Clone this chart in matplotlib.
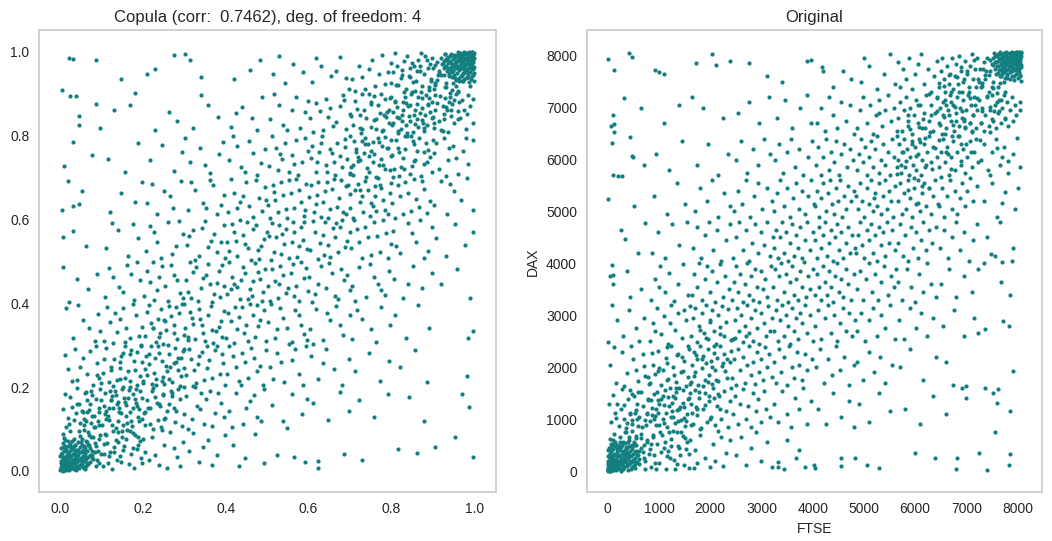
import numpy as np
import matplotlib.pyplot as plt

# Copula sample, both coordinates in thousandths (0..1000),
# grouped by x band of width 0.1, written as flat (u, v) pairs
cop_b0 = [3,8, 12,4, 7,21, 18,15, 25,6, 9,33, 31,22, 15,47, 40,12, 22,30, 5,14, 36,38, 48,25, 11,60,
          27,52, 55,9, 60,33, 19,71, 44,50, 8,88, 33,77, 66,18, 72,55, 51,68, 14,26, 29,11, 2,40, 39,2,
          58,44, 80,28, 24,95, 47,84, 63,71, 88,12, 16,5, 6,57, 35,63, 75,80, 92,47, 42,31, 20,40, 53,16,
          68,92, 85,66, 10,78, 30,18, 4,2, 13,13, 26,36, 61,4, 45,7, 97,85, 78,39, 37,49, 95,20,
          14,105, 33,122, 57,110, 81,131, 92,118, 8,148, 46,160, 70,145, 25,177, 62,189, 88,172, 39,138,
          75,115, 97,196, 18,127, 53,142, 66,168, 30,153, 85,104, 42,197, 11,183, 94,150, 59,125, 77,181,
          22,112, 28,214, 65,232, 90,258, 12,276, 47,249, 80,205, 35,290, 55,270, 95,222, 19,243, 72,285,
          42,218, 86,297, 31,318, 70,342, 92,375, 15,389, 55,361, 84,310, 44,396, 97,334, 22,402, 68,433,
          89,470, 40,458, 6,486, 6,558, 31,572, 62,536, 5,622, 32,633, 46,637, 20,691, 54,668, 10,728,
          32,784, 77,754, 46,847, 46,825, 86,875, 25,894, 39,894, 97,819, 5,909, 22,985, 31,982, 88,980]
cop_b1 = [104,12, 118,35, 131,58, 146,22, 159,77, 172,41, 188,63, 109,88, 125,5, 140,94, 153,49, 167,16,
          181,85, 196,30, 113,67, 137,27, 162,98, 178,8, 193,72, 121,45, 149,81, 185,53, 107,40, 134,74,
          176,91, 199,18, 102,110, 115,132, 129,151, 141,118, 155,175, 168,140, 183,162, 197,124, 108,187,
          122,168, 136,103, 149,196, 162,114, 176,183, 190,147, 105,155, 119,121, 133,190, 147,137, 160,158,
          174,106, 188,129, 111,142, 126,179, 139,165, 153,109, 166,194, 180,171, 194,190, 143,150,
          103,233, 118,211, 131,267, 144,245, 158,222, 171,288, 185,206, 198,259, 110,294, 124,248, 137,218,
          151,281, 165,239, 179,262, 192,227, 107,266, 128,203, 156,299, 170,214, 187,284, 146,273, 195,298,
          106,311, 121,356, 137,332, 152,389, 168,317, 183,371, 199,344, 114,392, 129,305, 145,363, 160,340,
          175,398, 190,322, 133,377, 158,308, 109,415, 127,462, 143,438, 161,491, 178,407, 194,455, 118,483,
          152,426, 171,470, 187,499, 112,531, 139,574, 165,512, 188,556, 126,592, 176,588, 120,618, 148,663,
          181,641, 197,689, 115,745, 157,712, 189,783, 130,861, 170,873, 148,935, 181,902]
cop_b2 = [205,44, 222,81, 238,15, 251,62, 266,92, 283,33, 297,70, 214,25, 246,98, 259,8, 275,55, 290,11,
          230,37, 203,139, 217,112, 229,176, 241,155, 254,127, 268,190, 281,144, 295,108, 209,168, 224,198,
          236,121, 249,184, 262,160, 277,116, 289,172, 299,135, 212,150, 244,104, 258,142, 271,179, 286,195,
          233,163, 201,214, 214,256, 226,233, 239,281, 252,207, 265,249, 278,293, 292,226, 207,274, 219,298,
          232,219, 245,262, 258,239, 271,211, 284,270, 297,285, 204,242, 237,297, 263,278, 289,203, 249,225,
          276,258, 222,208, 299,246, 206,321, 219,354, 231,308, 243,387, 256,336, 269,369, 282,315, 295,398,
          210,380, 224,341, 236,363, 249,302, 262,394, 275,348, 288,377, 299,325, 215,395, 253,357, 280,391,
          241,329, 203,417, 218,451, 233,432, 247,489, 261,406, 276,468, 290,425, 209,478, 224,499, 239,463,
          254,441, 268,492, 283,455, 297,412, 228,408, 207,524, 226,571, 244,509, 261,593, 279,537, 296,566,
          216,584, 235,545, 270,518, 288,597, 211,639, 234,612, 252,667, 273,628, 292,691, 223,684, 265,655,
          218,742, 247,778, 276,716, 295,761, 229,812, 262,857, 283,835, 210,947, 229,959, 276,993]
cop_b3 = [312,48, 335,22, 357,73, 379,39, 398,86, 322,91, 368,15, 345,57, 303,178, 318,124, 331,156,
          347,113, 361,191, 374,137, 389,162, 308,101, 325,199, 339,148, 353,171, 366,108, 382,185, 395,129,
          340,187, 305,228, 316,267, 329,209, 342,283, 354,246, 367,222, 380,297, 393,258, 311,291, 323,240,
          336,275, 348,217, 360,264, 373,289, 386,231, 399,206, 320,203, 356,299, 390,278, 333,254, 302,341,
          314,378, 327,315, 339,362, 351,309, 364,394, 376,333, 388,357, 300,398, 310,312, 322,351, 335,387,
          346,329, 358,373, 370,305, 383,344, 395,381, 318,364, 343,348, 366,336, 391,319, 304,455, 317,412,
          329,486, 341,437, 353,468, 366,403, 378,449, 390,491, 309,427, 321,474, 333,405, 346,459, 358,493,
          371,421, 384,478, 397,441, 313,499, 362,446, 387,414, 306,538, 321,574, 336,512, 351,597, 365,549,
          380,521, 395,586, 311,561, 327,503, 342,579, 357,533, 372,566, 388,545, 399,509, 308,622, 326,671,
          344,640, 362,695, 379,613, 397,658, 317,690, 353,627, 370,681, 388,635, 314,738, 339,771, 361,711,
          383,756, 302,794, 349,729, 394,785, 322,818, 357,873, 381,844, 340,896, 302,995, 315,981, 340,940]
cop_b4 = [418,62, 446,31, 471,87, 493,18, 432,12, 407,143, 424,186, 441,112, 458,167, 476,129, 492,195,
          415,104, 450,151, 468,182, 486,118, 403,231, 418,274, 432,215, 447,259, 461,293, 476,238, 490,206,
          409,297, 424,248, 439,282, 454,222, 469,269, 483,251, 497,288, 436,204, 401,318, 414,357, 427,339,
          440,392, 453,311, 466,371, 479,346, 492,384, 406,376, 419,304, 432,366, 445,329, 458,398, 471,320,
          484,361, 497,309, 423,391, 450,348, 475,395, 404,421, 416,463, 428,438, 441,487, 453,409, 466,452,
          478,474, 491,426, 409,498, 421,447, 434,411, 446,471, 459,433, 471,496, 484,458, 496,482, 412,435,
          438,456, 463,418, 487,405, 402,547, 415,589, 428,513, 441,562, 454,531, 467,578, 480,506, 493,554,
          408,524, 421,569, 434,598, 447,541, 460,502, 473,586, 486,536, 499,571, 425,549, 452,593, 478,527,
          405,618, 420,664, 435,641, 450,689, 465,606, 480,652, 495,677, 412,697, 427,628, 442,655, 457,633,
          472,694, 488,619, 498,646, 409,741, 428,776, 447,712, 466,759, 485,735, 418,798, 437,724, 456,787,
          475,705, 494,768, 414,821, 439,867, 463,843, 488,892, 426,854, 475,812, 421,934, 458,957, 483,979]
cop_b5 = [523,38, 564,33, 592,22, 512,157, 538,119, 561,183, 584,136, 549,102, 596,171, 506,247, 524,282,
          541,213, 559,265, 577,231, 594,298, 515,219, 533,259, 568,292, 587,205, 503,356, 518,318, 532,389,
          547,341, 561,307, 576,372, 590,326, 509,397, 524,339, 539,364, 553,302, 568,385, 582,349, 597,313,
          501,442, 513,481, 526,413, 538,467, 551,436, 563,494, 576,405, 588,459, 599,428, 507,406, 520,452,
          532,489, 545,424, 557,473, 570,441, 582,499, 594,483, 529,445, 566,418, 504,561, 516,523, 528,587,
          541,542, 553,509, 565,571, 578,536, 590,594, 509,502, 521,559, 534,518, 546,578, 559,546, 571,511,
          583,583, 596,529, 512,591, 537,565, 562,594, 587,551, 502,634, 514,681, 527,617, 539,659, 552,693,
          564,628, 577,671, 589,609, 508,603, 520,647, 533,689, 545,625, 558,662, 570,697, 583,642, 595,684,
          517,666, 548,604, 592,622, 505,728, 521,771, 537,745, 553,712, 569,789, 585,736, 599,763, 511,799,
          527,718, 543,781, 559,754, 575,707, 591,794, 530,757, 566,731, 507,839, 528,874, 549,813, 570,891,
          591,856, 517,898, 538,826, 559,862, 580,819, 598,883, 514,946, 542,925, 563,971, 586,951, 529,989]
cop_b6 = [622,23, 624,6, 685,41, 612,163, 648,121, 675,188, 697,142, 606,274, 624,219, 643,291, 661,243,
          680,205, 698,266, 635,257, 603,338, 619,387, 635,312, 651,359, 667,394, 683,325, 699,371, 611,303,
          644,376, 676,349, 601,463, 615,421, 629,488, 643,437, 657,472, 671,409, 685,456, 699,431, 608,403,
          622,447, 650,495, 664,418, 678,481, 692,467, 604,528, 616,571, 628,543, 640,594, 652,511, 664,557,
          676,583, 688,534, 700,569, 610,597, 622,505, 634,562, 646,539, 658,579, 670,521, 682,598, 694,548,
          637,516, 667,591, 602,654, 613,617, 624,688, 635,641, 646,603, 657,672, 668,629, 679,695, 690,612,
          699,661, 607,681, 618,636, 629,606, 640,668, 651,625, 662,697, 673,651, 684,618, 695,683, 644,689,
          621,659, 605,746, 617,712, 629,783, 641,729, 653,768, 665,706, 677,751, 689,791, 609,774, 621,737,
          633,798, 645,714, 657,759, 669,781, 681,724, 693,743, 699,709, 626,761, 662,736, 687,772, 603,841,
          619,878, 635,814, 651,866, 667,833, 683,897, 699,852, 611,808, 627,859, 643,887, 659,823, 675,871,
          691,815, 648,845, 686,884, 608,927, 631,965, 654,941, 677,988, 698,912, 619,984, 667,953, 690,938]
cop_b7 = [730,25, 722,169, 758,128, 791,184, 713,238, 746,281, 772,214, 795,262, 706,315, 729,362, 751,338,
          774,391, 796,349, 718,384, 763,307, 704,442, 722,487, 740,416, 758,463, 776,431, 794,478, 713,405,
          749,494, 767,447, 785,419, 702,532, 716,576, 730,509, 744,558, 758,593, 772,521, 786,567, 799,541,
          709,598, 723,547, 737,583, 751,514, 765,561, 779,599, 793,507, 701,627, 713,669, 725,641, 737,692,
          749,609, 761,655, 773,683, 785,622, 797,664, 707,604, 719,685, 731,618, 743,671, 755,633, 767,698,
          779,646, 791,612, 799,687, 728,656, 764,619, 703,726, 714,768, 725,741, 736,793, 747,712, 758,757,
          769,784, 780,729, 791,771, 708,705, 719,749, 730,786, 741,722, 752,763, 763,701, 774,745, 785,797,
          796,718, 711,788, 733,758, 755,737, 777,775, 799,752, 744,779, 702,847, 713,883, 724,819, 735,862,
          746,899, 757,836, 768,874, 779,812, 790,857, 799,891, 707,826, 718,864, 729,898, 740,841, 751,879,
          762,815, 773,853, 784,886, 795,829, 726,807, 759,895, 788,845, 705,934, 721,967, 737,912, 753,981,
          769,946, 785,923, 798,972, 713,906, 745,958, 777,991, 730,939, 761,918, 792,951]
cop_b8 = [815,52, 863,42, 842,176, 879,118, 821,247, 858,289, 887,213, 809,372, 836,318, 864,395, 891,341,
          806,458, 829,412, 852,489, 875,436, 898,471, 841,447, 803,573, 822,519, 841,592, 860,545, 879,508,
          898,581, 812,536, 850,567, 869,599, 888,524, 802,638, 815,681, 828,612, 841,664, 854,697, 867,629,
          880,673, 893,645, 808,603, 821,656, 834,689, 847,621, 860,648, 873,692, 886,615, 801,753, 812,789,
          823,724, 834,768, 845,709, 856,741, 867,795, 878,733, 889,766, 899,712, 806,721, 817,771, 828,746,
          839,798, 850,728, 861,763, 872,704, 883,782, 894,749, 819,703, 853,787, 887,738, 803,831, 813,868,
          823,815, 833,892, 843,847, 853,809, 863,875, 873,838, 883,896, 893,857, 808,882, 818,843, 828,861,
          838,806, 848,899, 858,828, 868,853, 878,819, 888,874, 898,843, 805,856, 825,834, 845,872, 865,891,
          885,826, 899,881, 815,811, 835,877, 855,849, 875,865, 804,952, 817,921, 830,978, 843,943, 856,906,
          869,965, 882,989, 895,931, 810,997, 823,938, 836,912, 849,973, 862,954, 875,918, 888,962, 899,985,
          813,965, 839,990, 852,928, 878,947, 891,909, 826,957, 865,981, 893,971, 846,960, 872,996]
cop_b9 = [905,56, 998,33, 953,82, 971,183, 988,153, 982,227, 998,334, 986,316, 921,447, 958,481, 989,412,
          908,556, 931,512, 954,589, 977,538, 996,571, 903,634, 919,691, 935,612, 951,668, 967,647, 983,698,
          997,623, 942,684, 902,758, 914,719, 926,793, 938,741, 950,776, 962,708, 974,762, 986,731, 998,789,
          908,782, 932,703, 956,747, 980,795, 901,845, 911,878, 921,812, 931,867, 941,893, 951,829, 961,858,
          971,884, 981,816, 991,871, 906,896, 916,834, 926,852, 936,809, 946,876, 956,899, 966,841, 976,862,
          986,897, 996,829, 903,819, 943,847, 963,879, 983,851, 998,888, 929,889, 902,912, 915,948, 924,971,
          933,926, 941,989, 948,955, 954,937, 959,978, 963,992, 967,961, 971,944, 974,985, 977,969, 980,996,
          983,953, 985,981, 988,999, 990,967, 992,988, 994,975, 996,993, 997,958, 999,984, 998,997, 995,979,
          991,995, 987,972, 984,990, 979,983, 976,949, 972,998, 968,977, 964,931, 958,966, 952,991, 945,974,
          937,962, 929,995, 919,986, 910,933, 906,969, 939,941, 956,917, 973,929, 986,940, 993,962, 999,949,
          989,918, 961,906, 947,908, 927,945, 966,985, 981,937, 950,968, 935,980, 975,959, 994,999, 970,990]
# the two solid clusters in the corners of the left panel
cop_lo = [1,3, 6,1, 2,9, 10,6, 14,2, 4,16, 8,12, 17,9, 21,3, 3,24, 12,19, 19,15, 26,8, 7,29, 15,26,
          23,21, 30,14, 34,4, 1,36, 11,33, 20,30, 28,25, 36,18, 41,9, 5,42, 16,39, 25,35, 33,29, 40,22,
          47,13, 9,48, 22,45, 31,40, 39,34, 46,27, 52,18, 57,6, 3,55, 14,53, 27,50, 37,44, 44,38, 51,31,
          58,23, 63,12, 18,60, 32,57, 42,51, 50,44, 56,36, 62,28, 68,17, 8,66, 24,64, 36,62, 48,56, 55,49,
          61,41, 67,33, 73,22, 13,74, 29,71, 43,68, 53,61, 60,54, 66,47, 72,39, 78,30, 2,19, 5,6, 9,2,
          13,10, 18,4, 24,14, 11,24, 6,33, 16,21, 29,6, 35,24, 22,38, 38,12, 45,46, 54,25, 26,58, 59,59,
          70,62, 64,70, 77,48]
cop_hi = [999,998, 994,999, 998,991, 990,994, 986,998, 996,984, 992,988, 983,991, 979,997, 997,976,
          988,981, 981,985, 974,992, 993,971, 985,974, 977,979, 970,986, 966,996, 999,964, 989,967,
          980,970, 972,975, 964,982, 959,991, 995,958, 984,961, 975,965, 967,971, 960,978, 953,987,
          991,952, 978,955, 969,960, 961,966, 954,973, 948,982, 943,994, 997,945, 986,947, 973,950,
          963,956, 956,962, 949,969, 942,977, 937,988, 982,940, 968,943, 958,949, 950,956, 944,964,
          938,972, 932,983, 992,934, 976,936, 964,938, 952,944, 945,951, 939,959, 933,967, 927,978,
          987,927, 971,929, 957,932, 947,939, 940,946, 934,953, 928,961, 922,970, 998,981, 995,987,
          991,997, 987,989, 982,994, 976,999, 995,969, 989,976, 964,986, 976,961, 962,999, 971,994,
          994,941, 955,978, 944,991, 930,995, 999,929, 952,967]
# the denser diagonal band running out of each corner cluster
cop_ridge_lo = [45,95, 62,120, 88,60, 95,140, 110,85, 72,160, 125,110, 140,70, 52,75, 100,40, 118,150,
                135,180, 150,95, 160,130, 82,105, 168,200, 175,150, 190,120, 198,175, 210,230, 205,140,
                222,190, 238,160, 245,215, 255,250, 230,270, 182,240, 145,220, 120,190, 98,170, 76,130,
                58,98, 90,25, 105,65, 130,45, 155,60, 170,95, 188,80, 66,140, 48,115, 112,125, 128,95,
                142,140, 156,165, 172,120, 186,155, 204,110, 218,150, 232,205, 248,180, 264,220, 270,185,
                285,240, 292,270, 260,300, 240,320, 215,280, 200,210, 184,195, 165,175, 152,200, 138,160,
                124,170, 108,135, 94,110, 80,82, 68,62, 55,140, 40,160, 75,190, 100,210, 60,185, 122,240,
                90,230, 145,260, 170,280, 195,300, 225,340, 250,360, 275,330, 300,290, 310,320, 280,260,
                85,45, 115,20, 145,35, 175,55, 200,75, 225,100, 250,125, 275,150, 300,200, 95,75, 70,85]
cop_ridge_hi = [960,905, 940,880, 912,945, 905,860, 890,915, 928,840, 875,890, 860,930, 948,925, 900,960,
                882,850, 865,820, 850,905, 840,870, 918,895, 832,800, 825,850, 810,880, 802,825, 790,770,
                795,860, 778,810, 762,840, 755,785, 745,750, 770,730, 818,760, 855,780, 880,810, 902,830,
                924,870, 942,902, 910,975, 895,935, 870,955, 845,940, 830,905, 812,920, 934,860, 952,885,
                888,875, 872,905, 858,860, 844,835, 828,880, 814,845, 796,890, 782,850, 768,795, 752,820,
                736,780, 730,815, 715,760, 708,730, 740,700, 760,680, 785,720, 800,790, 816,805, 835,825,
                848,800, 862,840, 876,830, 892,890, 906,920, 920,945, 932,915, 945,860, 960,840, 925,810,
                900,790, 940,770, 878,760, 855,740, 830,720, 805,700, 775,675, 750,640, 725,670, 700,710,
                690,680, 720,740, 915,955, 885,980, 855,965, 825,945, 800,925, 775,900, 750,875, 725,850,
                700,800, 905,925, 930,915]

ori_b0 = [20,40, 85,15, 140,90, 60,180, 210,60, 35,260, 170,210, 260,150, 120,330, 300,30, 75,110, 230,290,
          380,120, 15,400, 330,240, 180,420, 420,310, 95,520, 280,380, 470,70, 50,620, 360,470, 520,200,
          150,560, 400,560, 560,380, 240,650, 610,130, 480,500, 130,720, 330,760, 650,450, 700,250, 560,640,
          10,110, 45,330, 110,20, 190,140, 250,10, 310,330, 70,470, 420,650, 640,720, 760,560, 540,50, 390,20,
          160,300, 220,480, 290,560, 10,200, 590,300, 730,40, 0,20, 100,240, 350,170,
          30,1285, 60,940, 140,1120, 220,860, 310,1010, 390,1390, 470,900, 560,1180, 640,1520, 720,980,
          100,1460, 190,1300, 270,1580, 350,830, 430,1100, 510,1450, 600,870, 680,1250, 760,1090, 250,1190,
          440,1560, 580,1010, 790,1380, 160,1020, 53,2042, 160,1700, 270,2300, 380,1880, 490,2150, 600,1730,
          710,2020, 120,2380, 320,1640, 450,2400, 560,1950, 680,2260, 780,1820, 0,2480, 176,2909, 300,2600,
          420,3100, 560,2750, 700,2950, 90,3200, 620,2500, 430,3358, 98,3776, 39,3763, 111,3603, 92,3969,
          380,3850, 650,3500, 267,4644, 332,4470, 600,4200, 720,4780, 0,5235, 98,5703, 202,5684, 273,5684,
          520,5100, 80,6314, 129,6532, 436,6441, 475,6075, 494,6044, 700,5900, 66,6647, 124,6680, 110,6865,
          324,7181, 650,7000, 0,7932, 129,7720, 421,8060, 480,7971]
ori_b1 = [850,80, 900,300, 960,520, 1010,150, 1060,700, 1138,40, 1180,380, 1240,610, 1300,220, 1320,40,
          1370,480, 1430,760, 1480,120, 1540,560, 1590,330, 880,650, 940,30, 1100,450, 1210,260, 1270,770,
          1350,130, 1410,300, 1460,680, 1520,420, 1587,52, 830,420, 820,960, 870,1210, 910,1480, 950,880,
          990,1120, 1030,1390, 1070,1010, 1110,1570, 1150,850, 1190,1260, 1230,1040, 1270,1450, 1310,930,
          1350,1180, 1390,1600, 1430,990, 1470,1320, 1510,870, 1550,1100, 1600,1500, 850,1360, 930,1060,
          1010,1290, 1090,920, 1170,1420, 1250,1160, 1330,1530, 1410,1240, 1490,1020, 1570,1380, 830,1700,
          880,2050, 930,1860, 980,2320, 1030,1660, 1080,1950, 1130,2180, 1180,1780, 1230,2400, 1280,2010,
          1330,1720, 1380,2250, 1430,1900, 1480,2110, 1530,1640, 1580,2350, 860,2280, 1000,1990, 1150,2380,
          1300,1850, 1450,2200, 1560,1810, 820,2500, 890,2850, 960,3150, 1030,2640, 1100,2980, 1170,2450,
          1240,3200, 1310,2720, 1380,3050, 1450,2560, 1520,2900, 1600,3180, 930,2700, 1210,2850, 1480,3100,
          840,3300, 930,3700, 1020,3950, 1110,3450, 1200,3820, 1290,3280, 1380,3600, 1470,3990, 1560,3400,
          1000,3550, 860,4200, 990,4600, 1120,4100, 1250,4750, 1400,4350, 1550,4800, 900,5300, 1150,4950,
          1350,5550, 1500,5150, 950,6100, 1200,5800, 1450,6350, 1100,6700, 1400,7050, 923,7720, 1000,7682,
          1099,7649]
ori_b2 = [1678,52, 1990,71, 2257,100, 1700,400, 1800,700, 1900,250, 2050,520, 2150,780, 2300,350, 2380,600,
          1750,150, 2100,200, 2220,650, 1630,1300, 1660,900, 1700,1560, 1740,1080, 1780,1400, 1820,830,
          1860,1200, 1900,1500, 1940,950, 1980,1350, 2020,1050, 2060,1600, 2100,880, 2140,1250, 2180,1450,
          2220,1000, 2260,1550, 2300,1150, 2340,850, 2380,1350, 1720,1230, 2080,1400, 1620,1720, 1650,2050,
          1680,2300, 1710,1900, 1740,2150, 1770,1650, 1800,2400, 1830,1980, 1860,2220, 1890,1760, 1920,2080,
          1950,2350, 1980,1850, 2010,2120, 2040,1680, 2070,2280, 2100,1950, 2130,2180, 2160,1730, 2190,2400,
          2230,2020, 2270,2250, 2320,1800, 2390,2100, 1630,2600, 1670,2950, 1710,3150, 1750,2480, 1790,2800,
          1830,3050, 1870,2650, 1910,3200, 1950,2550, 1990,2900, 2030,3100, 2070,2700, 2110,2450, 2150,3000,
          2190,2780, 2230,3180, 2270,2600, 2310,2880, 2350,3120, 2400,2520, 1640,3400, 1690,3800, 1740,3550,
          1790,4000, 1840,3300, 1890,3700, 1940,3950, 1990,3450, 2040,3850, 2090,3250, 2140,3650, 2190,3980,
          2240,3350, 2290,3750, 2370,3500, 1660,4300, 1740,4700, 1820,4100, 1900,4550, 1980,4800, 2060,4250,
          2140,4650, 2220,4050, 2300,4450, 2390,4750, 1700,5000, 1810,5450, 1930,5200, 2040,5600, 2160,4900,
          2270,5350, 2380,5100, 1750,5900, 1950,6300, 2150,5700, 2350,6100, 1850,7000, 2250,6800, 1650,7200,
          1724,7855, 2030,8029, 2114,7817, 2381,7900]
ori_b3 = [2500,300, 2600,650, 2700,120, 2800,450, 2900,750, 3000,200, 3100,550, 3200,80, 2440,1100,
          2490,1450, 2540,900, 2590,1300, 2640,1580, 2690,1000, 2740,1250, 2790,850, 2840,1500, 2890,1150,
          2940,1380, 2990,950, 3040,1550, 3090,1200, 3160,1050, 2430,1800, 2470,2150, 2510,1650, 2550,2350,
          2590,1950, 2630,2200, 2670,1700, 2710,2050, 2750,2400, 2790,1850, 2830,2100, 2870,1680, 2910,2300,
          2950,1900, 2990,2150, 3030,1750, 3070,2380, 3110,2000, 3150,2250, 3200,1820, 2440,2550, 2480,2900,
          2520,3150, 2560,2700, 2600,3000, 2640,2480, 2680,2800, 2720,3200, 2760,2650, 2800,2950, 2840,2500,
          2880,3100, 2920,2750, 2960,2450, 3000,3050, 3040,2850, 3080,2600, 3120,3180, 3160,2700, 3200,2950,
          2700,2600, 2430,3300, 2470,3650, 2510,3950, 2550,3450, 2590,3800, 2630,3250, 2670,3600, 2710,4000,
          2750,3400, 2790,3750, 2830,3300, 2870,3900, 2910,3550, 2950,3250, 2990,3850, 3030,3500, 3070,3700,
          3110,3350, 3180,3950, 2450,4100, 2510,4500, 2570,4800, 2630,4250, 2690,4650, 2750,4050, 2810,4400,
          2870,4750, 2930,4200, 2990,4600, 3050,4350, 3110,4800, 3170,4150, 3220,4500, 2460,5000, 2540,5400,
          2620,5150, 2700,5600, 2780,4900, 2860,5300, 2940,5550, 3020,5050, 3100,5450, 3200,5200, 2500,6000,
          2610,6350, 2720,5750, 2830,6200, 2940,5900, 3050,6400, 3160,6100, 2550,6900, 2752,7100, 2950,6700,
          3150,7200, 2752,7868, 3100,7600]
ori_b4 = [3317,168, 3317,71, 3434,33, 3680,253, 3739,405, 3856,71, 4025,117, 3500,600, 3250,1300, 3330,950,
          3410,1550, 3490,1100, 3570,850, 3650,1400, 3730,1200, 3810,1600, 3890,900, 3970,1350, 3240,2100,
          3290,1700, 3340,2350, 3390,1900, 3440,2200, 3490,1650, 3540,2400, 3590,2000, 3640,1800, 3690,2300,
          3740,2050, 3790,1750, 3840,2250, 3890,1950, 3990,2150, 3240,2700, 3280,3100, 3320,2500, 3360,2900,
          3400,3200, 3440,2600, 3480,3000, 3520,2800, 3560,2450, 3600,3150, 3640,2700, 3680,2950, 3720,2550,
          3760,3050, 3800,2850, 3840,3200, 3880,2650, 3940,3000, 4000,2500, 3230,3550, 3270,3900, 3310,3300,
          3350,3750, 3390,4000, 3430,3450, 3470,3800, 3510,3250, 3550,3650, 3590,3950, 3630,3400, 3670,3700,
          3710,3300, 3750,3850, 3790,3550, 3830,4020, 3870,3350, 3910,3750, 3950,3500, 4010,3900, 3240,4300,
          3280,4650, 3320,4100, 3360,4500, 3400,4800, 3440,4200, 3480,4600, 3520,4050, 3560,4400, 3600,4750,
          3640,4150, 3680,4550, 3720,4300, 3760,4700, 3800,4100, 3840,4450, 3880,4800, 3940,4250, 4000,4600,
          3250,5000, 3310,5350, 3370,5600, 3430,5100, 3490,5450, 3550,4900, 3610,5250, 3670,5550, 3730,5050,
          3790,5400, 3850,4950, 3910,5300, 3970,5600, 4020,5150, 3260,6000, 3340,6300, 3420,5750, 3500,6150,
          3580,6400, 3660,5850, 3740,6200, 3820,5700, 3900,6050, 3990,6350, 3300,6800, 3450,7150, 3600,6600,
          3750,7000, 3895,7250, 3960,6700, 3895,7900, 3961,7913, 3400,7500]
ori_b5 = [4050,52, 4546,98, 4558,245, 4831,253, 4100,1200, 4250,900, 4400,1500, 4550,1050, 4700,1350,
          4800,850, 4060,2000, 4140,2350, 4220,1700, 4300,2150, 4380,1850, 4460,2400, 4540,1950, 4620,2200,
          4700,1650, 4800,2050, 4050,2800, 4110,3100, 4170,2550, 4230,2950, 4290,3200, 4350,2650, 4410,3000,
          4470,2500, 4530,2850, 4590,3150, 4650,2700, 4710,3050, 4770,2600, 4830,2900, 4040,3400, 4080,3800,
          4120,3550, 4160,3300, 4200,3950, 4240,3650, 4280,3400, 4320,3850, 4360,3550, 4400,3250, 4440,3750,
          4480,4000, 4520,3450, 4560,3700, 4600,3350, 4640,3900, 4680,3600, 4740,3300, 4800,3800, 4040,4450,
          4080,4100, 4120,4700, 4160,4300, 4200,4550, 4240,4800, 4280,4150, 4320,4400, 4360,4650, 4400,4050,
          4440,4500, 4480,4750, 4520,4250, 4560,4600, 4600,4100, 4640,4400, 4680,4700, 4720,4200, 4770,4550,
          4830,4300, 4050,5100, 4090,5400, 4130,4900, 4170,5250, 4210,5550, 4250,5000, 4290,5350, 4330,5600,
          4370,5150, 4410,4950, 4450,5450, 4490,5200, 4530,5600, 4570,4900, 4610,5300, 4650,5050, 4690,5500,
          4740,5200, 4800,5400, 4060,5900, 4110,6250, 4160,5700, 4210,6050, 4260,6400, 4310,5800, 4360,6150,
          4410,5950, 4460,6350, 4510,5700, 4560,6100, 4610,6300, 4660,5850, 4720,6200, 4790,6000, 4080,6700,
          4160,7000, 4240,6550, 4320,7200, 4400,6850, 4480,6600, 4560,7100, 4640,6750, 4720,7050, 4800,6500,
          4181,7790, 4201,7707, 4591,7707, 4400,7400, 4750,7550]
ori_b6 = [5065,110, 5300,52, 4900,1300, 5100,950, 5300,1500, 5500,1150, 4870,2100, 4980,1750, 5090,2300,
          5200,1900, 5310,2200, 5420,1700, 5550,2050, 4860,2700, 4940,3050, 5020,2500, 5100,2900, 5180,3150,
          5260,2600, 5340,3000, 5420,2750, 5500,3200, 5600,2550, 4860,3500, 4920,3850, 4980,3300, 5040,3700,
          5100,4000, 5160,3450, 5220,3800, 5280,3300, 5340,3650, 5400,3950, 5460,3400, 5520,3750, 5580,3550,
          5630,3900, 4850,4200, 4890,4550, 4930,4800, 4970,4350, 5010,4100, 5050,4650, 5090,4450, 5130,4750,
          5170,4200, 5210,4550, 5250,4050, 5290,4700, 5330,4350, 5370,4600, 5410,4150, 5450,4800, 5490,4400,
          5550,4650, 5610,4250, 4850,5300, 4890,5050, 4930,5550, 4970,5200, 5010,4900, 5050,5450, 5090,5150,
          5130,5600, 5170,5000, 5210,5350, 5250,5100, 5290,5550, 5330,4950, 5370,5300, 5410,5600, 5450,5050,
          5490,5400, 5530,5200, 5570,4900, 5610,5500, 5200,5250, 4860,5800, 4900,6100, 4940,6400, 4980,5950,
          5020,6250, 5060,5700, 5100,6050, 5140,6350, 5180,5850, 5220,6200, 5260,6450, 5300,5750, 5340,6000,
          5380,6300, 5420,5900, 5460,6150, 5500,5700, 5540,6400, 5590,6050, 5640,5850, 4870,6600, 4930,6950,
          4990,7200, 5050,6700, 5110,7050, 5170,6500, 5230,6850, 5290,7150, 5350,6650, 5410,6950, 5470,7250,
          5530,6750, 5590,7000, 5640,6550, 5300,6900, 5514,8029, 4950,7500, 5100,7800, 5250,7350, 5400,7650,
          5000,7950, 5600,7450]
ori_b7 = [5990,341, 6387,245, 5800,1200, 6100,900, 6350,1450, 5700,2000, 5900,2350, 6150,1750, 6400,2200,
          5680,2900, 5790,2550, 5900,3150, 6010,2750, 6120,3050, 6230,2600, 6350,2950, 5670,3650, 5750,3300,
          5830,3900, 5910,3550, 5990,3250, 6070,3800, 6150,3450, 6230,4000, 6310,3600, 6400,3350, 5660,4400,
          5710,4750, 5760,4150, 5810,4550, 5860,4050, 5910,4700, 5960,4300, 6010,4600, 6060,4100, 6110,4450,
          6160,4800, 6210,4250, 6260,4650, 6330,4400, 6410,4700, 5660,5200, 5700,5550, 5740,4950, 5780,5350,
          5820,5050, 5860,5600, 5900,5250, 5940,4900, 5980,5450, 6020,5150, 6060,5600, 6100,5000, 6140,5350,
          6180,5550, 6220,5100, 6260,5450, 6300,4950, 6340,5300, 6390,5600, 6440,5150, 5660,6000, 5690,6300,
          5720,5750, 5750,6150, 5780,6400, 5810,5850, 5840,6200, 5870,5700, 5900,6050, 5930,6350, 5960,5900,
          5990,6250, 6020,5800, 6050,6100, 6080,6400, 6110,5700, 6140,6000, 6170,6300, 6200,5850, 6230,6150,
          6260,6450, 6300,5950, 6350,6250, 6420,6050, 5660,6800, 5700,7100, 5740,6550, 5780,6950, 5820,7200,
          5860,6650, 5900,7000, 5940,6500, 5980,6850, 6020,7150, 6060,6700, 6100,7050, 6140,6600, 6180,6900,
          6220,7250, 6260,6750, 6300,7050, 6340,6550, 6380,6900, 6420,7200, 5850,6750, 6200,6600, 5658,7886,
          5700,7400, 5760,7750, 5820,7550, 5880,7950, 5940,7350, 6000,7650, 6060,7850, 6113,8029, 6180,7450,
          6240,7750, 6300,7300, 6360,7600, 6430,7900]
ori_b8 = [6802,33, 6823,245, 7251,347, 6600,1100, 7000,1400, 6732,1657, 6919,1593, 6997,1638, 6600,2100,
          6550,2800, 6750,3100, 6950,2600, 7150,2950, 6500,3600, 6650,3900, 6800,3350, 6950,3750, 7100,3450,
          7230,3900, 6480,4300, 6560,4650, 6640,4100, 6720,4500, 6800,4800, 6880,4250, 6960,4600, 7040,4050,
          7120,4450, 7200,4750, 6470,5100, 6520,5450, 6570,4900, 6620,5300, 6670,5600, 6720,5050, 6770,5400,
          6820,4950, 6870,5250, 6920,5550, 6970,5100, 7020,5400, 7070,5650, 7130,5200, 7200,5500, 6460,5850,
          6500,6150, 6540,6400, 6580,5950, 6620,6250, 6660,5700, 6700,6050, 6740,6350, 6780,5800, 6820,6150,
          6860,6450, 6900,5900, 6940,6200, 6980,5750, 7020,6050, 7060,6350, 7100,5850, 7140,6150, 7180,6400,
          7220,5950, 6640,6100, 7000,6300, 6460,6700, 6490,7000, 6520,6500, 6550,6850, 6580,7150, 6610,6600,
          6640,6950, 6670,7250, 6700,6750, 6730,7050, 6760,6550, 6790,6900, 6820,7200, 6850,6650, 6880,7000,
          6910,6800, 6940,7150, 6970,6600, 7000,6950, 7030,7250, 7060,6700, 7090,7050, 7120,6850, 7150,7200,
          7180,6600, 7210,6950, 7240,7150, 6600,7050, 6950,6750, 7100,6550, 6470,7400, 6500,7700, 6530,7950,
          6560,7550, 6590,7300, 6620,7800, 6650,7450, 6680,7650, 6710,7950, 6740,7350, 6770,7600, 6800,7850,
          6830,7450, 6860,8000, 6890,7700, 6920,7300, 6950,7550, 6980,7900, 7010,7650, 7040,7400, 7070,7800,
          7100,8030, 7130,7550, 7160,7750, 7200,7950, 7240,7500]
ori_b9 = [7401,13, 7830,110, 7850,322, 7551,745, 7856,1150, 7602,1304, 7524,1497, 7621,1574, 7362,1599,
          7914,1921, 7824,2794, 7713,2890, 7362,2730, 7230,2667, 7850,3391, 7889,4046, 7694,4033, 7672,3647,
          7485,4175, 7342,4002, 7400,4500, 7650,4800, 7900,4300, 7550,4150, 8000,5447, 7746,5370, 7694,5158,
          7817,5967, 7350,5200, 7500,5550, 7950,5050, 7600,4900, 7280,6000, 7350,6300, 7420,5800, 7500,6150,
          7580,6400, 7660,5900, 7740,6250, 7820,5750, 7900,6100, 7986,6410, 8040,5850, 7450,5700, 7700,6050,
          7280,6700, 7310,7000, 7340,6550, 7370,6850, 7400,7200, 7430,6650, 7460,6950, 7490,7250, 7520,6750,
          7550,7050, 7580,6600, 7610,6900, 7640,7150, 7670,6700, 7700,7000, 7730,7250, 7760,6800, 7790,7100,
          7820,6650, 7850,6950, 7880,7200, 7910,6750, 7940,7050, 7970,6850, 8039,6956, 8039,7116, 7280,7400,
          7320,7750, 7360,7550, 7400,7950, 7430,7300, 7460,7700, 7490,7850, 7520,7500, 7550,8000, 7570,7650,
          7590,7800, 7610,7400, 7630,7950, 7650,7600, 7670,8040, 7690,7750, 7710,7900, 7730,7500, 7750,7850,
          7770,8010, 7790,7650, 7810,7950, 7830,7800, 7850,8050, 7870,7700, 7890,7900, 7910,8020, 7930,7600,
          7950,7850, 7970,7980, 7990,7750, 8010,8040, 8030,7900, 8050,8060, 8060,7820, 7640,7720, 7720,7960,
          7800,7580, 7880,7820, 7940,7720, 8000,7940, 8040,8000, 7760,7720, 7860,7920, 7920,8060, 7980,8010,
          8020,7680, 7580,7880, 7680,7860, 7740,8060, 7820,7880, 7900,7980, 7960,7920, 8050,7950, 7840,8000,
          7700,7640, 7600,8020, 8070,8080]
# the two solid clusters in the corners of the right panel
ori_lo = [5,12, 48,8, 18,70, 80,45, 112,15, 30,128, 66,96, 135,72, 168,25, 22,190, 95,150, 150,118,
          205,62, 58,230, 120,205, 182,170, 240,110, 270,30, 8,285, 90,262, 160,238, 222,198, 288,140,
          325,70, 40,335, 128,310, 200,280, 262,232, 318,175, 372,100, 72,385, 175,360, 246,318, 310,270,
          365,215, 412,140, 452,48, 25,440, 110,425, 215,398, 295,350, 350,300, 405,245, 460,180, 500,95,
          142,478, 255,455, 335,405, 398,350, 445,290, 490,220, 540,130, 62,525, 190,510, 285,492, 382,445,
          438,390, 485,325, 530,260, 580,170, 102,590, 230,565, 342,540, 422,485, 478,430, 525,372, 575,310,
          620,240, 14,150, 38,52, 70,14, 102,80, 142,30, 190,110, 86,190, 45,262, 126,168, 230,48, 280,190,
          175,300, 300,95, 360,368, 430,200, 205,462, 470,470, 560,495, 510,560, 615,380, 0,0, 15,30, 35,0,
          0,60, 60,60]
ori_hi = [8070,8060, 8020,8075, 8060,8000, 7990,8030, 7960,8065, 8045,7940, 8005,7975, 7935,8000, 7900,8050,
          8050,7880, 7975,7920, 7920,7955, 7860,8010, 8015,7850, 7950,7870, 7885,7905, 7830,7960, 7795,8045,
          8065,7790, 7980,7810, 7910,7840, 7845,7880, 7785,7930, 7745,8000, 8030,7740, 7940,7760, 7870,7795,
          7805,7845, 7750,7900, 7690,7975, 8000,7690, 7895,7710, 7820,7750, 7760,7800, 7705,7860, 7650,7935,
          7610,8030, 8050,7630, 7960,7650, 7850,7680, 7780,7720, 7720,7770, 7665,7830, 7620,7900, 7570,7990,
          8010,7580, 7890,7600, 7800,7630, 7730,7680, 7670,7740, 7610,7800, 7560,7880, 7520,7960, 7930,7530,
          7840,7550, 7760,7570, 7680,7610, 7620,7670, 7560,7740, 7510,7820, 7460,7910, 8040,7980, 8030,8040,
          7995,8070, 7970,7990, 7930,8040, 7885,8070, 8040,7830, 7990,7880, 7790,7960, 7885,7760, 7780,8065,
          7860,8040, 8035,7600, 7740,7880, 7650,8070, 7540,8050, 8070,7520, 7700,7710]
# the denser diagonal band running out of each corner cluster
ori_ridge_lo = [350,760, 480,980, 700,500, 760,1120, 890,690, 580,1290, 1000,880, 1120,560, 420,600, 800,320,
                940,1200, 1080,1440, 1200,760, 1280,1040, 660,840, 1340,1600, 1400,1200, 1520,960, 1580,1400,
                1680,1840, 1640,1120, 1780,1520, 1900,1280, 1960,1720, 2040,2000, 1840,2160, 1460,1920,
                1160,1760, 960,1520, 780,1360, 610,1040, 470,780, 720,200, 840,520, 1040,360, 1240,480,
                1360,760, 1500,640, 530,1120, 380,920, 900,1000, 1020,760, 1140,1120, 1250,1320, 1380,960,
                1490,1240, 1630,880, 1740,1200, 1860,1640, 1980,1440, 2110,1760, 2160,1480, 2280,1920,
                2330,2160, 2080,2400, 1920,2560, 1720,2240, 1600,1680, 1470,1560, 1320,1400, 1220,1600,
                1100,1280, 990,1360, 860,1080, 750,880, 640,640, 540,500, 440,1120, 320,1280, 600,1520,
                800,1680, 480,1480, 980,1920, 720,1840, 1160,2080, 1360,2240, 1560,2400, 1800,2720, 2000,2880,
                2200,2640, 2400,2320, 2480,2560, 2240,2080, 680,360, 920,160, 1160,280, 1400,440, 1600,600,
                1800,800, 2000,1000, 2200,1200, 2400,1600, 760,600, 560,680]
ori_ridge_hi = [7750,7300, 7590,7100, 7360,7630, 7300,6940, 7180,7390, 7490,6780, 7060,7180, 6940,7500,
                7650,7470, 7260,7750, 7120,6860, 6980,6620, 6860,7300, 6780,7020, 7410,7220, 6710,6460,
                6660,6860, 6540,7100, 6480,6660, 6380,6220, 6420,6940, 6280,6540, 6150,6780, 6100,6340,
                6020,6060, 6220,5900, 6600,6140, 6900,6300, 7100,6540, 7280,6700, 7460,7020, 7600,7280,
                7340,7870, 7220,7550, 7020,7710, 6820,7590, 6700,7300, 6560,7420, 7540,6940, 7680,7140,
                7160,7060, 7040,7300, 6920,6940, 6800,6740, 6690,7100, 6570,6820, 6420,7180, 6310,6860,
                6200,6420, 6070,6620, 5940,6300, 5900,6580, 5770,6140, 5720,5900, 5970,5650, 6130,5490,
                6330,5820, 6460,6380, 6590,6500, 6740,6660, 6840,6460, 6960,6780, 7070,6700, 7200,7180,
                7310,7420, 7430,7620, 7520,7380, 7630,6940, 7750,6780, 7460,6540, 7260,6380, 7590,6220,
                7080,6140, 6900,5980, 6700,5820, 6500,5660, 6260,5450, 6060,5170, 5850,5410, 5650,5730,
                5820,5980, 7380,7700, 7150,7910, 6900,7790, 6660,7630, 6460,7470, 6260,7260, 6060,7060,
                5850,6860, 5650,6460, 7300,7470, 7500,7390]

corr = 0.7462
dof = 4
dot_color = '#137f80'
text_color = '#262626'
spine_color = '#cccccc'

plt.rcParams['font.family'] = ['Liberation Sans', 'DejaVu Sans']


def unpack(bands, unit=1.0):
    pts = np.concatenate([np.asarray(b, dtype=float).reshape(-1, 2) for b in bands]) * unit
    return pts[:, 0], pts[:, 1]


cop_u, cop_v = unpack([cop_b0, cop_b1, cop_b2, cop_b3, cop_b4, cop_b5, cop_b6, cop_b7, cop_b8,
                       cop_b9, cop_lo, cop_hi, cop_ridge_lo, cop_ridge_hi], unit=0.001)
ftse, dax = unpack([ori_b0, ori_b1, ori_b2, ori_b3, ori_b4, ori_b5, ori_b6, ori_b7, ori_b8,
                    ori_b9, ori_lo, ori_hi, ori_ridge_lo, ori_ridge_hi])

fig = plt.figure(figsize=(10.52, 5.41), dpi=100)
ax1 = fig.add_axes([0.0374, 0.0900, 0.4338, 0.8540])
ax2 = fig.add_axes([0.5577, 0.0900, 0.4331, 0.8540])

ax1.scatter(cop_u, cop_v, s=9, color=dot_color, linewidths=0)
ax1.set_xlim(-0.05, 1.052)
ax1.set_ylim(-0.051, 1.051)
ax1.set_title(f"Copula (corr:  {corr}), deg. of freedom: {dof}", fontsize=12, color=text_color)

ax2.scatter(ftse, dax, s=9, color=dot_color, linewidths=0)
ax2.set_xlim(-410, 8480)
ax2.set_ylim(-410, 8490)
ax2.set_xticks(range(0, 8001, 1000))
ax2.set_yticks(range(0, 8001, 1000))
ax2.set_title("Original", fontsize=12, color=text_color)
ax2.set_xlabel("FTSE", fontsize=10, color=text_color)
ax2.set_ylabel("DAX", fontsize=10, color=text_color)

for ax in (ax1, ax2):
    ax.set_facecolor('white')
    ax.grid(False)
    for sp in ax.spines.values():
        sp.set_color(spine_color)
        sp.set_linewidth(1.25)
    ax.tick_params(length=0, pad=7, labelsize=10, labelcolor=text_color)

fig.savefig('out.png', dpi=100)
